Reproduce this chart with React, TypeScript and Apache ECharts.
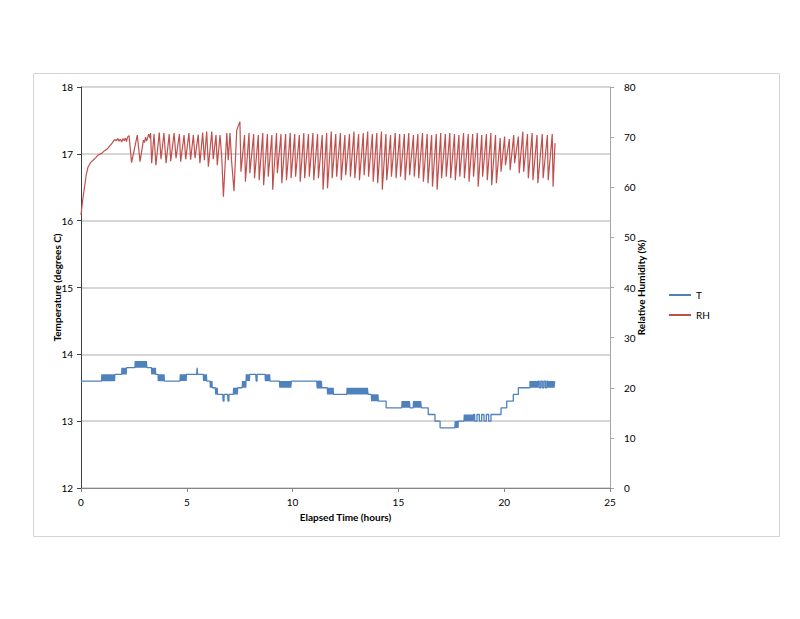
import React, { useEffect, useRef } from "react";
import * as echarts from "echarts";

// ---- Axes ----
const xMin = 0, xMax = 25, xStep = 5;
const tMin = 12, tMax = 18, tStep = 1;
const rhMin = 0, rhMax = 80, rhStep = 10;
const seriesNames = ["T", "RH"];

// ---- RH (%) : initial ramp and irregular part, [hours, %] ----
const rhLead: [number, number][] = [
  [0, 54.5], [0.08, 57.5], [0.17, 60.1], [0.25, 62.5], [0.33, 64.0], [0.45, 64.9], [0.57, 65.4],
  [0.7, 65.9], [0.8, 66.4], [0.95, 66.7], [1.12, 67.3], [1.25, 67.7], [1.35, 68.2], [1.47, 68.8],
  [1.59, 69.5], [1.68, 69.3], [1.74, 69.7], [1.8, 69.2], [1.86, 69.6], [1.92, 69.0], [1.98, 69.7],
  [2.04, 69.3], [2.1, 69.8], [2.15, 69.1], [2.2, 70.0], [2.27, 70.3],
  [2.39, 64.9], [2.66, 70.4], [2.79, 65.1], [2.95, 69.4], [3.0, 68.9], [3.05, 70.0], [3.1, 69.2],
  [3.2, 70.6], [3.26, 69.8], [3.29, 70.8], [3.34, 64.8], [3.45, 70.6], [3.54, 64.4], [3.70, 70.9],
  [3.78, 65.6], [3.92, 70.8], [4.02, 64.8], [4.17, 70.6], [4.24, 65.2], [4.40, 70.8], [4.49, 65.8],
  [4.65, 70.6], [4.71, 65.1], [4.87, 70.4], [4.95, 65.6], [5.10, 70.8], [5.18, 65.5], [5.31, 70.4],
  [5.39, 65.8], [5.54, 70.5], [5.62, 64.8], [5.75, 70.9], [5.83, 65.4], [5.94, 71.1], [6.02, 64.1],
  [6.18, 71.1], [6.25, 65.6], [6.38, 70.4], [6.44, 64.4], [6.57, 70.4], [6.65, 66.1], [6.73, 58.1],
  [6.89, 70.8], [6.96, 65.4], [7.04, 70.8], [7.12, 65.1], [7.23, 59.2], [7.36, 71.4], [7.51, 73.1],
  [7.56, 63.1],
];

// ---- RH (%) : regular cycles after 7.5 h (peak time, peak value, trough value) ----
const rhCycleTimes = [
  7.73, 7.94, 8.16, 8.38, 8.59, 8.81, 9.02, 9.24, 9.45, 9.67,
  9.89, 10.10, 10.32, 10.53, 10.75, 10.96, 11.18, 11.40, 11.61, 11.83,
  12.04, 12.26, 12.47, 12.69, 12.90, 13.12, 13.34, 13.55, 13.77, 13.98,
  14.20, 14.41, 14.63, 14.85, 15.06, 15.28, 15.49, 15.71, 15.92, 16.14,
  16.36, 16.57, 16.79, 17.00, 17.22, 17.43, 17.65, 17.86, 18.08, 18.30,
  18.51, 18.73, 18.94, 19.16, 19.37, 19.59, 19.81, 20.02, 20.24, 20.45,
  20.67, 20.88, 21.10, 21.32, 21.55, 21.80, 22.04, 22.27,
];
const rhPeaks = [
  70.4, 70.8, 70.6, 70.4, 70.8, 70.6, 70.4, 70.8, 70.6, 70.6,
  70.8, 70.6, 70.4, 70.8, 70.6, 70.8, 70.6, 70.4, 70.8, 71.1,
  70.6, 70.8, 70.4, 70.6, 71.1, 70.6, 70.8, 71.1, 70.6, 70.8,
  71.1, 70.6, 70.4, 70.8, 70.6, 70.6, 70.8, 70.4, 70.6, 70.8,
  70.6, 70.4, 70.6, 70.8, 70.6, 70.8, 70.6, 70.4, 70.8, 70.6,
  70.6, 70.8, 70.4, 70.6, 70.8, 70.4, 69.8, 70.1, 69.6, 70.4,
  70.1, 71.1, 70.6, 70.8, 70.4, 70.6, 70.4, 70.6,
];
const rhTroughs = [
  61.1, 62.8, 61.8, 61.4, 60.4, 62.1, 59.5, 62.8, 60.8, 61.4,
  61.8, 62.1, 61.1, 61.8, 62.1, 61.4, 61.8, 59.5, 59.8, 61.8,
  62.1, 61.4, 62.4, 62.1, 61.8, 61.4, 62.4, 62.1, 61.1, 60.8,
  59.5, 61.4, 62.1, 61.8, 62.1, 61.4, 62.4, 62.1, 61.8, 61.1,
  60.8, 60.1, 59.5, 61.8, 62.1, 61.8, 61.4, 62.1, 61.8, 61.1,
  62.1, 60.1, 62.1, 61.4, 60.4, 60.8, 63.1, 64.4, 63.4, 64.8,
  62.8, 63.1, 61.8, 61.4, 60.8, 61.8, 61.4, 60.1,
];
const rhDropHours = 0.04;
const rhTail: [number, number][] = [[22.4, 68.8]];

// ---- Temperature (deg C): [start h, end h, base level, flicker level, flicker count] ----
const tempSegments: [number, number, number, number, number][] = [
  [0, 0.97, 13.6, 13.6, 0],
  [0.97, 1.6, 13.6, 13.7, 10],
  [1.6, 1.92, 13.7, 13.7, 0],
  [1.92, 2.15, 13.7, 13.8, 4],
  [2.15, 2.55, 13.8, 13.8, 0],
  [2.55, 3.13, 13.8, 13.9, 10],
  [3.13, 3.33, 13.8, 13.8, 0],
  [3.33, 3.53, 13.8, 13.7, 3],
  [3.53, 3.64, 13.7, 13.7, 0],
  [3.64, 3.94, 13.7, 13.6, 5],
  [3.94, 4.68, 13.6, 13.6, 0],
  [4.68, 4.98, 13.6, 13.7, 6],
  [4.98, 5.47, 13.7, 13.7, 0],
  [5.47, 5.53, 13.7, 13.8, 1],
  [5.53, 5.78, 13.7, 13.7, 0],
  [5.78, 5.94, 13.7, 13.6, 3],
  [5.94, 6.1, 13.6, 13.6, 0],
  [6.1, 6.2, 13.6, 13.5, 2],
  [6.2, 6.35, 13.5, 13.5, 0],
  [6.35, 6.45, 13.5, 13.4, 2],
  [6.45, 6.7, 13.4, 13.4, 0],
  [6.7, 6.78, 13.4, 13.3, 1],
  [6.78, 6.93, 13.4, 13.4, 0],
  [6.93, 7.01, 13.4, 13.3, 1],
  [7.01, 7.2, 13.4, 13.4, 0],
  [7.2, 7.4, 13.4, 13.5, 4],
  [7.4, 7.62, 13.5, 13.5, 0],
  [7.62, 7.8, 13.5, 13.6, 3],
  [7.8, 7.97, 13.6, 13.7, 3],
  [7.97, 8.26, 13.7, 13.7, 0],
  [8.26, 8.34, 13.7, 13.6, 1],
  [8.34, 8.7, 13.7, 13.7, 0],
  [8.7, 8.93, 13.7, 13.6, 4],
  [8.93, 9.38, 13.6, 13.6, 0],
  [9.38, 9.96, 13.6, 13.5, 9],
  [9.96, 11.14, 13.6, 13.6, 0],
  [11.14, 11.38, 13.6, 13.5, 3],
  [11.38, 11.64, 13.5, 13.5, 0],
  [11.64, 11.93, 13.5, 13.4, 5],
  [11.93, 12.56, 13.4, 13.4, 0],
  [12.56, 13.58, 13.4, 13.5, 16],
  [13.58, 13.72, 13.4, 13.4, 0],
  [13.72, 14.05, 13.4, 13.3, 5],
  [14.05, 14.42, 13.3, 13.3, 0],
  [14.42, 15.16, 13.2, 13.2, 0],
  [15.16, 15.56, 13.2, 13.3, 7],
  [15.56, 15.7, 13.2, 13.2, 0],
  [15.7, 16.1, 13.2, 13.3, 6],
  [16.1, 16.41, 13.2, 13.2, 0],
  [16.41, 16.73, 13.1, 13.1, 0],
  [16.73, 16.97, 13.0, 13.0, 0],
  [16.97, 17.67, 12.9, 12.9, 0],
  [17.67, 17.83, 12.9, 13.0, 3],
  [17.83, 18.1, 13.0, 13.0, 0],
  [18.1, 18.55, 13.0, 13.1, 8],
  [18.55, 19.43, 13.1, 13.0, 4],
  [19.43, 19.85, 13.1, 13.1, 0],
  [19.85, 20.12, 13.2, 13.2, 0],
  [20.12, 20.43, 13.3, 13.3, 0],
  [20.43, 20.67, 13.4, 13.4, 0],
  [20.67, 21.22, 13.5, 13.5, 0],
  [21.22, 21.62, 13.6, 13.5, 8],
  [21.62, 22.05, 13.6, 13.5, 3],
  [22.05, 22.4, 13.6, 13.5, 6],
];

function buildRH(): [number, number][] {
  const pts: [number, number][] = [...rhLead];
  rhCycleTimes.forEach((t, i) => {
    pts.push([t, rhPeaks[i]]);
    pts.push([+(t + rhDropHours).toFixed(3), rhTroughs[i]]);
  });
  return pts.concat(rhTail);
}

function buildTemp(): [number, number][] {
  const pts: [number, number][] = [];
  for (const [t0, t1, base, other, n] of tempSegments) {
    pts.push([t0, base]);
    if (n > 0) {
      const step = (t1 - t0) / n;
      for (let j = 0; j < n; j++) {
        const a = t0 + step * (j + 0.25);
        const b = t0 + step * (j + 0.75);
        pts.push([a, base], [a, other], [b, other], [b, base]);
      }
    }
    pts.push([t1, base]);
  }
  return pts;
}

const FONT = 'Lato, "Liberation Sans", "DejaVu Sans", sans-serif';

export default function App() {
  const ref = useRef<HTMLDivElement>(null);
  useEffect(() => {
    if (!ref.current) return;
    const chart = echarts.init(ref.current, undefined, { renderer: "svg" });
    chart.setOption({
      animation: false,
      backgroundColor: "#ffffff",
      textStyle: { fontFamily: FONT },
      graphic: [
        {
          type: "rect",
          silent: true,
          z: -10,
          shape: { x: 33.5, y: 73.5, width: 746, height: 463 },
          style: { fill: "none", stroke: "#d4d4d4", lineWidth: 1 },
        },
      ],
      grid: { left: 81, top: 87, width: 529, height: 401, containLabel: false },
      legend: {
        orient: "vertical",
        left: 664,
        top: 284,
        itemWidth: 22,
        itemHeight: 2,
        itemGap: 8,
        icon: "rect",
        data: seriesNames,
        textStyle: { fontSize: 10, color: "#000", lineHeight: 12, fontFamily: FONT },
      },
      xAxis: {
        type: "value",
        min: xMin,
        max: xMax,
        interval: xStep,
        name: "Elapsed Time (hours)",
        nameLocation: "middle",
        nameGap: 24,
        nameMoveOverlap: false,
        nameTextStyle: { fontWeight: "bold", fontSize: 10, color: "#000", fontFamily: FONT },
        axisLine: { show: true, onZero: false, lineStyle: { color: "#868686", width: 1 } },
        axisTick: { show: true, inside: false, length: 4, lineStyle: { color: "#868686" } },
        axisLabel: { color: "#000", fontSize: 10, margin: 9, fontFamily: FONT },
        splitLine: { show: false },
      },
      yAxis: [
        {
          type: "value",
          position: "left",
          min: tMin,
          max: tMax,
          interval: tStep,
          name: "Temperature (degrees C)",
          nameLocation: "middle",
          nameRotate: 90,
          nameGap: 19,
          nameMoveOverlap: false,
          nameTextStyle: { fontWeight: "bold", fontSize: 10, color: "#000", fontFamily: FONT },
          axisLine: { show: true, onZero: false, lineStyle: { color: "#404040", width: 1 } },
          axisTick: { show: true, inside: false, length: 4, lineStyle: { color: "#404040" } },
          axisLabel: { color: "#000", fontSize: 10, margin: 8, fontFamily: FONT },
          splitLine: { show: true, lineStyle: { color: "#c8c8c8", width: 1.5 } },
        },
        {
          type: "value",
          position: "right",
          min: rhMin,
          max: rhMax,
          interval: rhStep,
          name: "Relative Humidity (%)",
          nameLocation: "middle",
          nameRotate: 90,
          nameGap: 26,
          nameMoveOverlap: false,
          nameTextStyle: { fontWeight: "bold", fontSize: 10, color: "#000", fontFamily: FONT },
          axisLine: { show: true, onZero: false, lineStyle: { color: "#a6a6a6", width: 1 } },
          axisTick: { show: true, inside: false, length: 4, lineStyle: { color: "#a6a6a6" } },
          axisLabel: { color: "#000", fontSize: 10, margin: 14, fontFamily: FONT },
          splitLine: { show: false },
        },
      ],
      series: [
        {
          name: "T",
          type: "line",
          yAxisIndex: 0,
          data: buildTemp(),
          symbol: "none",
          showSymbol: false,
          lineStyle: { color: "#4f81bd", width: 1.3 },
          itemStyle: { color: "#4f81bd" },
        },
        {
          name: "RH",
          type: "line",
          yAxisIndex: 1,
          data: buildRH(),
          symbol: "none",
          showSymbol: false,
          lineStyle: { color: "#c0504d", width: 1.2 },
          itemStyle: { color: "#c0504d" },
        },
      ],
    });
    return () => chart.dispose();
  }, []);
  return (
    <div
      ref={ref}
      style={{ position: "absolute", left: 0, top: 0, width: 800, height: 619, background: "#fff" }}
    />
  );
}
